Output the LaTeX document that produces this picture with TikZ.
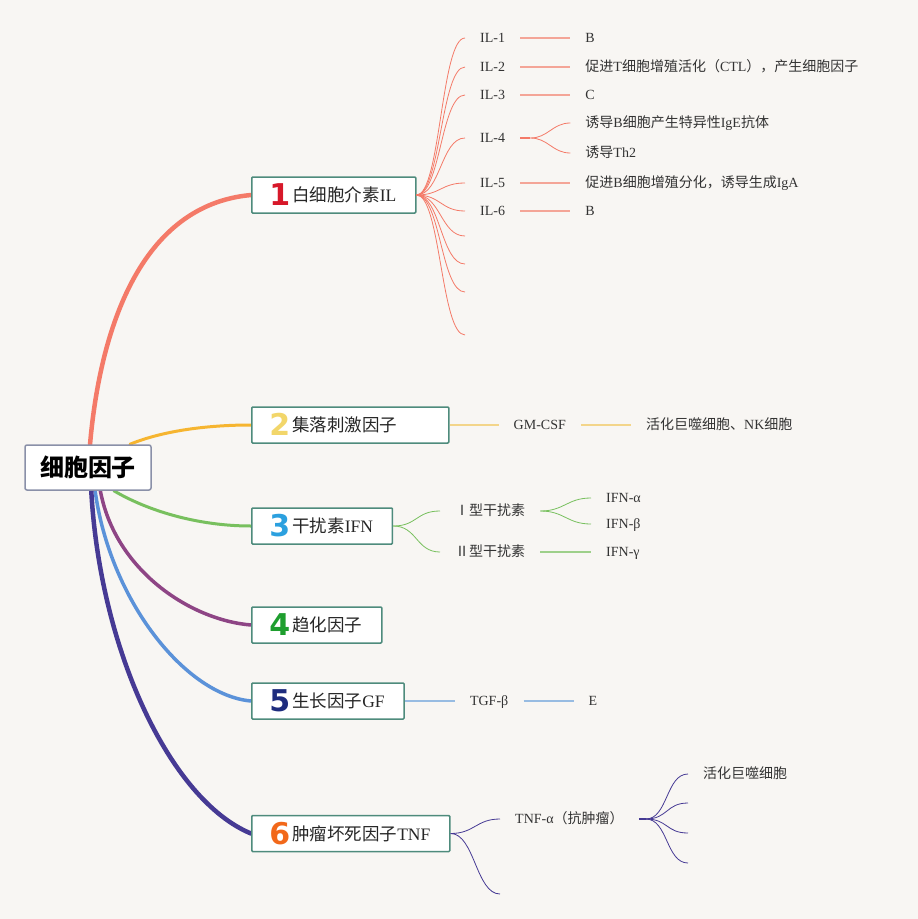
\documentclass[tikz,border=0pt]{standalone}
\usepackage{fontspec}
\setmainfont{Liberation Serif}
\newfontfamily\cjk{Noto Sans CJK SC}
\newfontfamily\numfont{DejaVu Sans}
\usetikzlibrary{positioning, backgrounds}
\definecolor{paper}{HTML}{F8F6F3}
\definecolor{topicedge}{HTML}{4E8B7C}
\definecolor{rootedge}{HTML}{8A90A8}
\definecolor{ilcol}{HTML}{F47A68}
\definecolor{illeaf}{HTML}{F4A597}
\definecolor{csfcol}{HTML}{F6B530}
\definecolor{csfleaf}{HTML}{F3D58A}
\definecolor{ifncol}{HTML}{78C05E}
\definecolor{ifnleaf}{HTML}{9ED08A}
\definecolor{chemocol}{HTML}{8E4585}
\definecolor{gfcol}{HTML}{5B92D9}
\definecolor{gfleaf}{HTML}{98BCE2}
\definecolor{tnfcol}{HTML}{463A94}
\definecolor{tnfleaf}{HTML}{5A4EA0}
\definecolor{num1}{HTML}{D7182A}
\definecolor{num2}{HTML}{F2D66A}
\definecolor{num3}{HTML}{2BA0DF}
\definecolor{num4}{HTML}{1E9E2E}
\definecolor{num5}{HTML}{1E2C7E}
\definecolor{num6}{HTML}{F2681A}
\newcommand{\zh}[1]{{\cjk #1}}
\newcommand{\tagnum}[2]{\makebox[17pt]{\smash{\raisebox{-4pt}{\numfont\bfseries\fontsize{30}{30}\selectfont\color{#1}#2}}}\hspace{4pt}}
\tikzset{
  root/.style={rectangle, draw=rootedge, fill=white, line width=1.5pt, rounded corners=2pt, minimum width=126pt, minimum height=45pt, font=\cjk\bfseries\fontsize{24}{26}\selectfont},
  topic/.style={rectangle, draw=topicedge, fill=white, line width=1.5pt, rounded corners=1pt, minimum height=36pt, inner xsep=19.5pt, inner ysep=0pt, text=black!85, font=\fontsize{17.5}{20}\selectfont},
  leaf/.style={inner xsep=15pt, inner ysep=2pt, text height=11pt, text depth=2pt, text=black!80, font=\fontsize{14}{16}\selectfont},
  branch/.style={line cap=round},
  twig/.style={line width=0.8pt},
  stem/.style={line width=1.3pt},
  fan/.style={to path={.. controls +(#1,0) and +(-#1,0) .. (\tikztotarget) \tikztonodes}},
  fan/.default=24
}
\begin{document}
\begin{tikzpicture}[x=1pt, y=-1pt]
  \useasboundingbox (0,0) rectangle (918,919);

  % central topic and main topics
  \node[root] (cyto) at (88,467.5) {细胞因子};
  \node[topic, anchor=west] (il) at (251,195) {\tagnum{num1}{1}\zh{白细胞介素}IL};
  \node[topic, anchor=west] (csf) at (251,425) {\tagnum{num2}{2}\zh{集落刺激因子}\hspace*{32pt}};
  \node[topic, anchor=west] (ifn) at (251,526) {\tagnum{num3}{3}\zh{干扰素}IFN};
  \node[topic, anchor=west] (chemo) at (251,625) {\tagnum{num4}{4}\zh{趋化因子}};
  \node[topic, anchor=west] (gf) at (251,701) {\tagnum{num5}{5}\zh{生长因子}GF};
  \node[topic, anchor=west] (tnf) at (251,833.5) {\tagnum{num6}{6}\zh{肿瘤坏死因子}TNF};

  % 1 IL
  \foreach \n/\y in {1/38,2/67,3/95,4/138,5/183,6/211}
    \node[leaf, anchor=west] (il\n) at (465,\y) {IL-\n};
  \foreach \n/\y in {7/236,8/264,9/292,10/335}
    \coordinate (il\n) at (465,\y);
  \node[leaf, right=50pt of il1] (ild1) {B};
  \node[leaf, right=50pt of il2] (ild2) {\zh{促进}T\zh{细胞增殖活化（}CTL\zh{），产生细胞因子}};
  \node[leaf, right=50pt of il3] (ild3) {C};
  \coordinate[right=10pt of il4] (il4j);
  \node[leaf, right=50pt of il4, yshift=15pt] (ild4) {\zh{诱导}B\zh{细胞产生特异性}IgE\zh{抗体}};
  \node[leaf, right=50pt of il4, yshift=-15pt] (ile4) {\zh{诱导}Th2};
  \node[leaf, right=50pt of il5] (ild5) {\zh{促进}B\zh{细胞增殖分化，诱导生成}IgA};
  \node[leaf, right=50pt of il6] (ild6) {B};

  \foreach \n in {1,...,6}
    \draw[twig, ilcol] (il.east) to[fan] (il\n.west);
  \foreach \n in {7,...,10}
    \draw[twig, ilcol] (il.east) to[fan] (il\n);
  \foreach \n in {1,2,3,5,6}
    \draw[stem, illeaf] (il\n.east) -- (ild\n.west);
  \draw[stem, ilcol] (il4.east) -- (il4j);
  \draw[twig, ilcol] (il4j) to[fan=18] (ild4.west);
  \draw[twig, ilcol] (il4j) to[fan=18] (ile4.west);

  % 2 CSF
  \node[leaf, right=49pt of csf] (gmcsf) {GM-CSF};
  \node[leaf, right=50pt of gmcsf] (gmd) {\zh{活化巨噬细胞、}NK\zh{细胞}};
  \draw[stem, csfleaf] (csf.east) -- (gmcsf.west);
  \draw[stem, csfleaf] (gmcsf.east) -- (gmd.west);

  % 3 IFN
  \node[leaf, anchor=west] (ifn1) at (440,511) {\zh{Ⅰ型干扰素}};
  \node[leaf, anchor=west] (ifn2) at (440,552) {\zh{Ⅱ型干扰素}};
  \node[leaf, anchor=west] (ifna) at (591,498) {IFN-α};
  \node[leaf, anchor=west] (ifnb) at (591,524) {IFN-β};
  \node[leaf, anchor=west] (ifng) at (591,552) {IFN-γ};
  \draw[twig, ifncol] (ifn.east) to[fan] (ifn1.west);
  \draw[twig, ifncol] (ifn.east) to[fan] (ifn2.west);
  \draw[twig, ifncol] (ifn1.east) to[fan] (ifna.west);
  \draw[twig, ifncol] (ifn1.east) to[fan] (ifnb.west);
  \draw[stem, ifnleaf] (ifn2.east) -- (ifng.west);

  % 5 GF
  \node[leaf, right=50pt of gf] (tgf) {TGF-β};
  \node[leaf, right=50pt of tgf] (tgfd) {E};
  \draw[stem, gfleaf] (gf.east) -- (tgf.west);
  \draw[stem, gfleaf] (tgf.east) -- (tgfd.west);

  % 6 TNF
  \node[leaf, anchor=west] (tnfa) at (500,819) {TNF-α\zh{（抗肿瘤）}};
  \coordinate (tnfb) at (500,894);
  \coordinate[right=7pt of tnfa] (tnfj);
  \node[leaf, anchor=west] (mac) at (688,774) {\zh{活化巨噬细胞}};
  \foreach \n/\y in {2/803,3/833,4/863}
    \coordinate (tnfe\n) at (688,\y);
  \draw[twig, tnfcol] (tnf.east) to[fan] (tnfa.west);
  \draw[twig, tnfcol] (tnf.east) to[fan] (tnfb);
  \draw[stem, tnfcol, line width=2pt] (tnfa.east) -- (tnfj);
  \draw[twig, tnfcol] (tnfj) to[fan=22] (mac.west);
  \foreach \n in {2,3,4}
    \draw[twig, tnfcol] (tnfj) to[fan=22] (tnfe\n);

  % main branches behind the boxes
  \begin{scope}[on background layer]
    \fill[paper] (0,0) rectangle (918,919);
    \draw[branch, ilcol, line width=4.5pt] (cyto.85) .. controls (100,330) and (140,205) .. (il.west);
    \draw[branch, csfcol, line width=3pt] (cyto.29) .. controls (165,430) and (210,425) .. (csf.west);
    \draw[branch, ifncol, line width=3pt] (cyto.-42) .. controls (150,512) and (200,526) .. (ifn.west);
    \draw[branch, chemocol, line width=3.5pt] (cyto.-62) .. controls (115,570) and (190,620) .. (chemo.west);
    \draw[branch, gfcol, line width=3.5pt] (cyto.-73) .. controls (110,600) and (185,695) .. (gf.west);
    \draw[branch, tnfcol, line width=4.5pt] (cyto.-82) .. controls (100,650) and (170,800) .. (tnf.west);
  \end{scope}
\end{tikzpicture}
\end{document}
